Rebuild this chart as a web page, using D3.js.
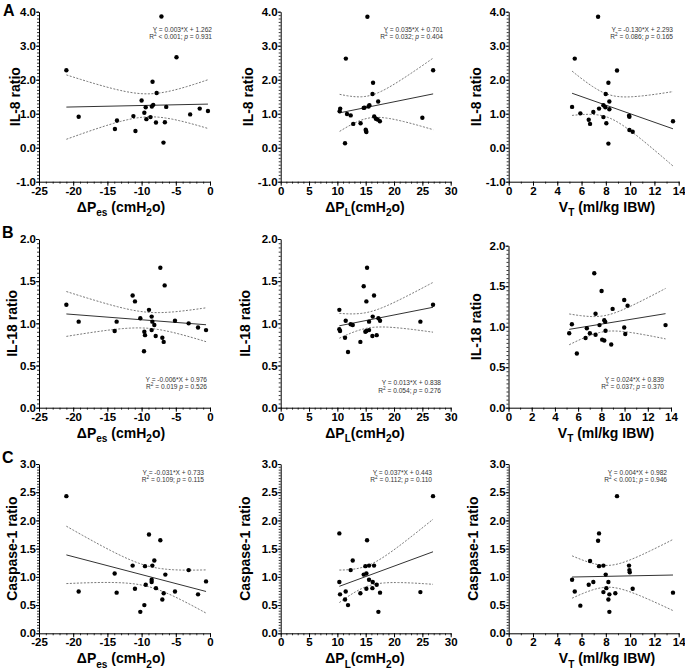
<!DOCTYPE html>
<html>
<head>
<meta charset="utf-8" />
<title>IL-8, IL-18 and caspase-1 ratio</title>
<script src="https://d3js.org/d3.v7.min.js"></script>
<style>
body { margin: 0; background: #fff; }
svg { font-family: "Liberation Sans", Arial, sans-serif; }
.axis path, .axis line { stroke: #000; stroke-width: 1; }
.axis text { font-size: 11.5px; font-weight: bold; fill: #000; font-family: "Liberation Sans", Arial, sans-serif; }
.minor line { stroke: #000; stroke-width: 0.8; }
.minor path { display: none; }
.dot { fill: #000; }
.fit { fill: none; stroke: #333; stroke-width: 1; }
.band { fill: none; stroke: #666; stroke-width: 0.9; stroke-dasharray: 2,1.5; }
.title { font-size: 14px; font-weight: bold; }
.letter { font-size: 16px; font-weight: bold; }
.note { font-size: 6.6px; fill: #333; }
</style>
</head>
<body>
<div id="viz"></div>
<script>

// ---- data ----
// row A: IL-8 ratio
var pes_il8_x = [-21.0, -19.2, -13.9, -13.6, -11.2, -10.9, -10.0, -9.6, -9.4, -9.3, -8.7, -8.5, -8.3, -8.4, -7.8, -7.9, -7.1, -6.8, -6.6, -6.4, -4.9, -2.9, -1.5, -0.3];
var pes_il8_y = [2.28, 0.91, 0.55, 0.80, 0.93, 0.49, 1.39, 1.03, 1.19, 0.84, 0.90, 1.21, 1.26, 1.94, 1.61, 0.74, 3.86, 0.15, 0.75, 1.20, 2.66, 0.98, 1.15, 1.08];
var pl_il8_x = [15.3, 11.5, 26.9, 16.3, 16.2, 17.2, 15.65, 15.5, 14.8, 14.65, 10.5, 10.4, 11.7, 12.35, 16.5, 16.8, 17.1, 17.5, 25.0, 12.8, 14.1, 15.0, 15.06, 15.12, 11.35];
var pl_il8_y = [3.85, 2.62, 2.28, 1.91, 1.58, 1.36, 1.25, 1.21, 1.18, 1.17, 1.15, 1.07, 0.99, 0.95, 0.92, 0.85, 0.83, 0.78, 0.88, 0.70, 0.72, 0.53, 0.49, 0.46, 0.13];
var vt_il8_x = [7.36, 5.44, 8.92, 8.21, 7.99, 8.29, 7.80, 7.96, 7.44, 8.29, 5.22, 5.90, 6.97, 7.80, 6.59, 6.70, 8.04, 9.91, 9.94, 9.94, 10.21, 13.53, 8.21];
var vt_il8_y = [3.85, 2.62, 2.27, 1.91, 1.58, 1.36, 1.25, 1.19, 1.15, 1.13, 1.20, 1.01, 1.05, 0.90, 0.82, 0.70, 0.72, 0.94, 0.91, 0.52, 0.47, 0.78, 0.12];

// row B: IL-18 ratio
var pes_il18_x = [-21.0, -19.2, -13.94, -13.65, -11.31, -10.97, -10.19, -9.60, -9.50, -9.65, -8.92, -8.53, -8.43, -8.53, -8.14, -7.94, -7.26, -6.63, -6.97, -6.77, -5.12, -3.12, -1.75, -0.58];
var pes_il18_y = [1.22, 1.02, 0.91, 1.02, 1.33, 1.26, 1.06, 0.90, 0.86, 0.67, 1.16, 1.08, 1.02, 0.92, 0.98, 0.85, 1.66, 1.45, 0.83, 0.78, 1.03, 1.00, 0.95, 0.92];
var pl_il18_x = [10.35, 10.35, 10.47, 11.47, 11.35, 11.88, 12.35, 12.71, 14.06, 14.65, 15.12, 15.24, 14.94, 15.12, 15.59, 15.59, 16.24, 16.47, 16.18, 16.94, 17.24, 17.53, 24.65, 26.88];
var pl_il18_y = [1.16, 0.93, 0.91, 1.03, 0.83, 0.66, 0.99, 0.98, 0.78, 1.44, 1.26, 1.66, 0.90, 0.91, 0.92, 1.02, 1.08, 1.33, 0.85, 0.86, 1.06, 1.03, 1.02, 1.22];
var vt_il18_x = [5.23, 5.46, 5.89, 6.64, 6.75, 7.01, 7.39, 7.50, 7.50, 7.84, 8.02, 8.07, 8.25, 8.25, 8.33, 8.36, 8.85, 8.97, 9.97, 9.97, 10.06, 10.26, 13.53];
var vt_il18_y = [0.92, 1.03, 0.67, 0.86, 0.98, 0.92, 1.66, 1.16, 0.90, 1.02, 1.44, 0.84, 0.83, 1.08, 1.06, 0.95, 0.78, 1.22, 1.33, 0.99, 0.91, 1.26, 1.02];

// row C: caspase-1 ratio
var pes_casp_x = [-21.0, -19.2, -13.94, -13.65, -11.31, -10.97, -10.19, -9.60, -9.50, -9.40, -8.92, -8.53, -8.53, -8.43, -8.14, -7.9, -7.26, -6.97, -6.77, -6.53, -5.12, -3.12, -1.75, -0.58];
var pes_casp_y = [2.43, 0.74, 1.06, 0.72, 1.20, 0.79, 0.38, 0.50, 1.19, 0.86, 1.75, 0.95, 0.91, 1.20, 1.29, 0.80, 1.65, 0.60, 0.71, 1.04, 0.74, 1.12, 0.69, 0.92];
var pl_casp_x = [10.35, 10.35, 10.47, 11.47, 11.35, 11.88, 12.35, 12.71, 14.06, 14.94, 14.65, 15.12, 15.24, 15.12, 15.59, 15.59, 16.24, 16.47, 16.18, 16.94, 17.24, 17.53, 24.65, 26.88];
var pl_casp_y = [1.77, 0.91, 0.69, 0.74, 0.60, 0.50, 1.12, 1.29, 0.71, 1.19, 1.04, 1.06, 1.65, 0.79, 0.95, 1.20, 0.91, 1.20, 0.80, 0.86, 0.38, 0.72, 0.73, 2.43];
var vt_casp_x = [5.22, 5.44, 5.90, 6.59, 6.70, 6.97, 7.36, 7.44, 7.44, 7.80, 7.80, 7.99, 8.04, 8.21, 8.21, 8.29, 8.29, 8.92, 8.78, 9.91, 9.94, 9.97, 10.21, 13.53];
var vt_casp_y = [0.95, 0.74, 0.49, 0.86, 1.28, 0.91, 1.64, 1.77, 1.19, 1.20, 0.73, 1.04, 0.80, 0.91, 0.60, 0.69, 0.38, 2.43, 0.71, 1.20, 1.12, 1.08, 0.79, 0.72];

// tick labels
var pesTicks = [-25, -20, -15, -10, -5, 0];
var plTicks = [0, 5, 10, 15, 20, 25, 30];
var vtTicks = [0, 2, 4, 6, 8, 10, 12, 14];
var il8Ticks = [-1, 0, 1, 2, 3, 4];
var il18Ticks = [0, 0.5, 1, 1.5, 2];
var caspTicks = [0, 0.5, 1, 1.5, 2, 2.5, 3];

// printed regression notes: [equation, R2 part, separator, p]
var notes = [
  ["Y = 0.003*X + 1.262", " < 0.001", ";", "0.931"],
  ["Y = 0.035*X + 0.701", " = 0.032", ";", "0.404"],
  ["Y = -0.130*X + 2.293", " = 0.086", ";", "0.165"],
  ["Y = -0.006*X + 0.976", " = 0.019", "", "0.526"],
  ["Y = 0.013*X + 0.838", " = 0.054", ";", "0.276"],
  ["Y = 0.024*X + 0.839", " = 0.037", ";", "0.370"],
  ["Y = -0.031*X + 0.733", " = 0.109", ";", "0.115"],
  ["Y = 0.037*X + 0.443", " = 0.112", ";", "0.110"],
  ["Y = 0.004*X + 0.982", " < 0.001", ";", "0.946"]
];

// x titles as rich text parts
var xTitles = [
  [["\u0394P", ""], ["es", "sub"], [" (cmH", ""], ["2", "sub"], ["o)", ""]],
  [["\u0394P", ""], ["L", "sub"], ["(cmH", ""], ["2", "sub"], ["o)", ""]],
  [["V", ""], ["T", "sub"], [" (ml/kg IBW)", ""]]
];
var yTitles = ["IL-8 ratio", "IL-18 ratio", "Caspase-1 ratio"];

// layout: box = [left, top, width, height], tx = x title centre, yo = y title offset,
// nx/ny = note right edge and first baseline
var panels = [
  {xs: pes_il8_x, ys: pes_il8_y, r: 0, c: 0, box: [39, 11.7, 171, 170], tx: 121, yo: 19, nx: 212, ny: 31.5},
  {xs: pl_il8_x, ys: pl_il8_y, r: 0, c: 1, box: [280.7, 11.7, 170, 170], tx: 365, yo: 28, nx: 443, ny: 31.5},
  {xs: vt_il8_x, ys: vt_il8_y, r: 0, c: 2, box: [508.7, 11.7, 170, 170], tx: 607, yo: 28, nx: 673, ny: 31.5},
  {xs: pes_il18_x, ys: pes_il18_y, r: 1, c: 0, box: [39, 239, 171, 168.7], tx: 121, yo: 22, nx: 207, ny: 381.5},
  {xs: pl_il18_x, ys: pl_il18_y, r: 1, c: 1, box: [280.7, 239, 170, 168.7], tx: 365, yo: 31, nx: 441, ny: 385},
  {xs: vt_il18_x, ys: vt_il18_y, r: 1, c: 2, box: [508.5, 245.7, 162.5, 162], tx: 606, yo: 27.5, nx: 664, ny: 381.5},
  {xs: pes_casp_x, ys: pes_casp_y, r: 2, c: 0, box: [39, 464, 171, 169.3], tx: 121, yo: 22, nx: 204, ny: 474.5},
  {xs: pl_casp_x, ys: pl_casp_y, r: 2, c: 1, box: [280.7, 464, 170, 169.3], tx: 365, yo: 31, nx: 432, ny: 474.5},
  {xs: vt_casp_x, ys: vt_casp_y, r: 2, c: 2, box: [508.7, 464, 170, 169.3], tx: 607, yo: 31, nx: 667, ny: 474.5}
];

var xDomains = [[-25, 0], [0, 30], [0, 14]],
    xTicks = [pesTicks, plTicks, vtTicks],
    xMinor = [1, 1, 1];
var yDomains = [[-1, 4], [0, 2], [0, 3]],
    yTicks = [il8Ticks, il18Ticks, caspTicks],
    yMinor = [0.1, 0.05, 0.05];

var svg = d3.select("#viz").append("svg")
    .attr("width", 685)
    .attr("height", 668);

// write text made of plain / sub / sup / italic parts
function rich(t, parts, size) {
  var shift = 0;
  parts.forEach(function(p) {
    var s = t.append("tspan").text(p[0]);
    var want = p[1] === "sub" ? size * 0.3 : p[1] === "sup" ? -size * 0.38 : 0;
    s.attr("dy", want - shift);
    shift = want;
    if (p[1] === "sub" || p[1] === "sup") s.style("font-size", (size * 0.72) + "px");
    if (p[1] === "it") s.style("font-style", "italic");
  });
}

// least squares fit with 95% confidence band of the line
function fit(xs, ys) {
  var n = xs.length, mx = d3.mean(xs), my = d3.mean(ys);
  var sxx = d3.sum(xs, function(d) { return (d - mx) * (d - mx); });
  var sxy = d3.sum(xs.map(function(d, i) { return (d - mx) * (ys[i] - my); }));
  var b = sxy / sxx, a = my - b * mx;
  var sse = d3.sum(xs.map(function(d, i) { return Math.pow(ys[i] - a - b * d, 2); }));
  var s = Math.sqrt(sse / (n - 2));
  return {a: a, b: b, band: function(x) {
    return 2.07 * s * Math.sqrt(1 / n + (x - mx) * (x - mx) / sxx);
  }};
}

panels.forEach(function(p, i) {
  var L = p.box[0], T = p.box[1], W = p.box[2], H = p.box[3];
  var x = d3.scaleLinear().domain(xDomains[p.c]).range([0, W]);
  var y = d3.scaleLinear().domain(yDomains[p.r]).range([H, 0]);
  var g = svg.append("g").attr("transform", "translate(" + L + "," + T + ")");

  // minor ticks
  var xd = xDomains[p.c], yd = yDomains[p.r];
  g.append("g").attr("class", "minor")
      .attr("transform", "translate(0," + H + ")")
      .call(d3.axisBottom(x).tickValues(d3.range(xd[0], xd[1] + 1e-9, xMinor[p.c])).tickSize(2).tickFormat(""));
  g.append("g").attr("class", "minor")
      .call(d3.axisLeft(y).tickValues(d3.range(yd[0], yd[1] + 1e-9, yMinor[p.r])).tickSize(2).tickFormat(""));

  g.append("g").attr("class", "axis")
      .attr("transform", "translate(0," + H + ")")
      .call(d3.axisBottom(x).tickValues(xTicks[p.c]).tickSize(4).tickSizeOuter(0).tickPadding(1)
        .tickFormat(function(d) { return String(d); }));
  g.append("g").attr("class", "axis")
      .call(d3.axisLeft(y).tickValues(yTicks[p.r]).tickSize(3).tickSizeOuter(0).tickPadding(0)
        .tickFormat(function(d) { return d.toFixed(1); }));

  // regression line and confidence band
  var f = fit(p.xs, p.ys);
  var ext = d3.extent(p.xs);
  var grid = d3.range(0, 61).map(function(k) { return ext[0] + (ext[1] - ext[0]) * k / 60; });
  var line = d3.line()
      .x(function(d) { return x(d[0]); })
      .y(function(d) { return y(d[1]); });
  g.append("path").attr("class", "fit")
      .attr("d", line(ext.map(function(v) { return [v, f.a + f.b * v]; })));
  g.append("path").attr("class", "band")
      .attr("d", line(grid.map(function(v) { return [v, f.a + f.b * v + f.band(v)]; })));
  g.append("path").attr("class", "band")
      .attr("d", line(grid.map(function(v) { return [v, f.a + f.b * v - f.band(v)]; })));

  g.selectAll(".dot")
    .data(p.xs.map(function(v, k) { return [v, p.ys[k]]; }))
    .enter().append("circle")
      .attr("class", "dot")
      .attr("cx", function(d) { return x(d[0]); })
      .attr("cy", function(d) { return y(d[1]); })
      .attr("r", 2.2);

  // axis titles
  rich(svg.append("text").attr("class", "title")
      .attr("x", p.tx).attr("y", T + H + 30)
      .attr("text-anchor", "middle"), xTitles[p.c], 14);
  svg.append("text").attr("class", "title")
      .attr("transform", "translate(" + (L - p.yo) + "," + (T + H / 2) + ") rotate(-90)")
      .attr("text-anchor", "middle")
      .text(yTitles[p.r]);

  // regression note
  var n = notes[i];
  svg.append("text").attr("class", "note")
      .attr("x", p.nx).attr("y", p.ny)
      .attr("text-anchor", "end")
      .text(n[0]);
  rich(svg.append("text").attr("class", "note")
      .attr("x", p.nx).attr("y", p.ny + 7.5)
      .attr("text-anchor", "end"),
      [["R", ""], ["2", "sup"], [n[1] + n[2] + " ", ""], ["p", "it"], [" = " + n[3], ""]], 6.6);
});

// panel letters
svg.selectAll(".letter")
  .data([["A", 3, 16], ["B", 2, 238], ["C", 2, 463]])
  .enter().append("text")
    .attr("class", "letter")
    .attr("x", function(d) { return d[1]; })
    .attr("y", function(d) { return d[2]; })
    .text(function(d) { return d[0]; });

</script>
</body>
</html>
